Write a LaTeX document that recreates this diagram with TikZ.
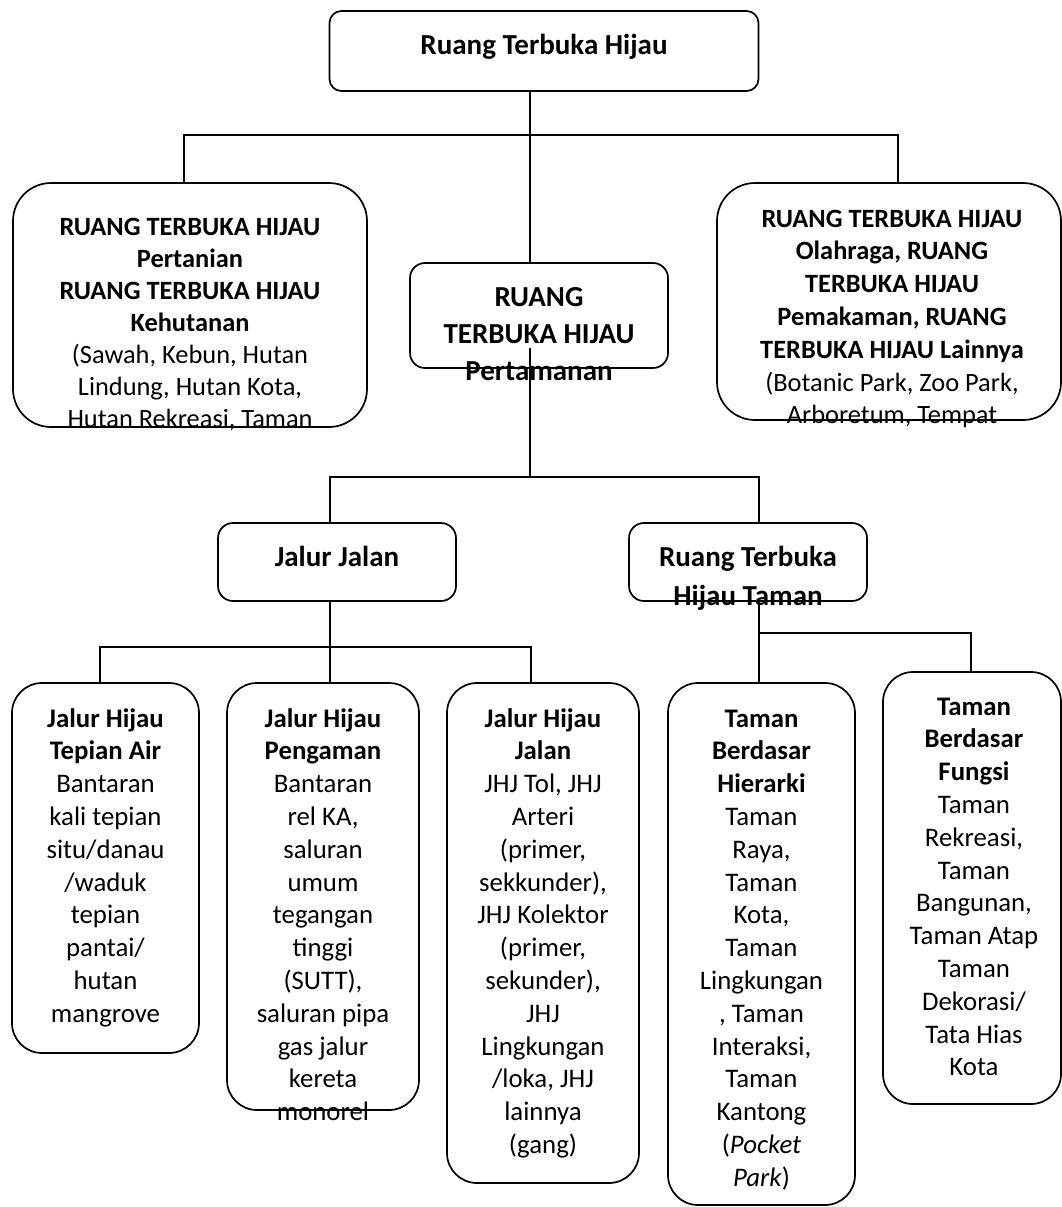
\documentclass[tikz,border=0pt]{standalone}
\usepackage{fontspec}
\setmainfont{Carlito}
\usepackage{tikz}
\usetikzlibrary{positioning,calc}

% one centred column, baseline on the first row
\newcommand{\rows}[1]{\begin{tabular}[t]{@{}c@{}}#1\end{tabular}}

\begin{document}
\begin{tikzpicture}[x=1pt, y=-1pt,
      frame/.style={draw, line width=1.7pt, inner sep=0pt},
      lbl/.style={inner sep=0pt, anchor=base, align=center},
      head/.style={font=\fontsize{29}{37}\selectfont},
      side/.style={font=\fontsize{26.4}{32.4}\selectfont},
      body/.style={font=\fontsize{26.8}{32.8}\selectfont},
      link/.style={line width=1.3pt}]
    \useasboundingbox (0,0) rectangle (1062,1207);

    % boxes
    \node[frame, rounded corners=12pt, minimum width=429pt, minimum height=80pt] (top) at (544,51) {};
    \node[frame, rounded corners=38pt, minimum width=354pt, minimum height=244pt] (lb) at (190,305) {};
    \node[frame, rounded corners=38pt, minimum width=344pt, minimum height=237pt] (rb) at (889,301.5) {};
    \node[frame, rounded corners=15pt, minimum width=258pt, minimum height=105pt] (mid) at (539,315.5) {};
    \node[frame, rounded corners=15pt, minimum width=238pt, minimum height=78pt] (jj) at (337,562) {};
    \node[frame, rounded corners=15pt, minimum width=238pt, minimum height=78pt] (tm) at (748,562) {};
    \node[frame, rounded corners=30pt, minimum width=187pt, minimum height=370pt] (b1) at (105.5,868) {};
    \node[frame, rounded corners=30pt, minimum width=192pt, minimum height=427pt] (b2) at (323,896.5) {};
    \node[frame, rounded corners=30pt, minimum width=192pt, minimum height=500pt] (b3) at (543,933) {};
    \node[frame, rounded corners=30pt, minimum width=187pt, minimum height=522pt] (b4) at (761.5,944) {};
    \node[frame, rounded corners=30pt, minimum width=178pt, minimum height=432pt] (b5) at (972,888) {};

    % texts
    \node[lbl, head] (toptext) at ([yshift=-44pt]top.north) {\rows{\textbf{Ruang Terbuka Hijau}}};
    \node[lbl, side, font=\fontsize{26.4}{32}\selectfont] (lbtext) at ([yshift=-53pt]lb.north)
      {\rows{\textbf{RUANG TERBUKA HIJAU}\\\textbf{Pertanian}\\\textbf{RUANG TERBUKA HIJAU}\\\textbf{Kehutanan}\\(Sawah, Kebun, Hutan\\Lindung, Hutan Kota,\\Hutan Rekreasi, Taman}};
    \node[lbl, side, font=\fontsize{26.4}{32.8}\selectfont] (rbtext) at ([xshift=3pt,yshift=-45pt]rb.north)
      {\rows{\textbf{RUANG TERBUKA HIJAU}\\\textbf{Olahraga, RUANG}\\\textbf{TERBUKA HIJAU}\\\textbf{Pemakaman, RUANG}\\\textbf{TERBUKA HIJAU Lainnya}\\(Botanic Park, Zoo Park,\\Arboretum, Tempat}};
    \node[lbl, head] (midtext) at ([yshift=-44pt]mid.north) {\rows{\textbf{RUANG}\\\textbf{TERBUKA HIJAU}\\\textbf{Pertamanan}}};
    \node[lbl, head] (jjtext) at ([yshift=-44pt]jj.north) {\rows{\textbf{Jalur Jalan}}};
    \node[lbl, font=\fontsize{29}{39}\selectfont] (tmtext) at ([yshift=-44pt]tm.north) {\rows{\textbf{Ruang Terbuka}\\\textbf{Hijau Taman}}};
    \node[lbl, body] (b1text) at ([yshift=-45pt]b1.north)
      {\rows{\textbf{Jalur Hijau}\\\textbf{Tepian Air}\\Bantaran\\kali tepian\\situ/danau\\/waduk\\tepian\\pantai/\\hutan\\mangrove}};
    \node[lbl, body] (b2text) at ([yshift=-45pt]b2.north)
      {\rows{\textbf{Jalur Hijau}\\\textbf{Pengaman}\\Bantaran\\rel KA,\\saluran\\umum\\tegangan\\tinggi\\(SUTT),\\saluran pipa\\gas jalur\\kereta\\monorel}};
    \node[lbl, body] (b3text) at ([yshift=-45pt]b3.north)
      {\rows{\textbf{Jalur Hijau}\\\textbf{Jalan}\\JHJ Tol, JHJ\\Arteri\\(primer,\\sekkunder),\\JHJ Kolektor\\(primer,\\sekunder),\\JHJ\\Lingkungan\\/loka, JHJ\\lainnya\\(gang)}};
    \node[lbl, body] (b4text) at ([yshift=-45pt]b4.north)
      {\rows{\textbf{Taman}\\\textbf{Berdasar}\\\textbf{Hierarki}\\Taman\\Raya,\\Taman\\Kota,\\Taman\\Lingkungan\\, Taman\\Interaksi,\\Taman\\Kantong\\(\textit{Pocket}\\\textit{Park})}};
    \node[lbl, body] (b5text) at ([xshift=2pt,yshift=-44pt]b5.north)
      {\rows{\textbf{Taman}\\\textbf{Berdasar}\\\textbf{Fungsi}\\Taman\\Rekreasi,\\Taman\\Bangunan,\\Taman Atap\\Taman\\Dekorasi/\\Tata Hias\\Kota}};

    % connectors
    \coordinate (bus1) at (530,135);
    \coordinate (stem) at ([xshift=-9pt,yshift=21pt]mid.south);
    \coordinate (bus2) at (530,477);
    \coordinate (bus3) at (330,647);
    \coordinate (bus4) at (759,633);
    \draw[link] ([xshift=-14pt]top.south) -- ([xshift=-9pt]mid.north);
    \draw[link] ([xshift=-6pt]lb.north) |- (bus1) -| ([xshift=9pt]rb.north);
    \draw[link] (stem) -- (bus2);
    \draw[link] ([xshift=-7pt]jj.north) |- (bus2) -| ([xshift=11pt]tm.north);
    \draw[link] ([xshift=-7pt]jj.south) -- (bus3);
    \draw[link] ([xshift=-5.5pt]b1.north) |- (bus3) -| ([xshift=-12pt]b3.north);
    \draw[link] (bus3) -- ([xshift=7pt]b2.north);
    \draw[link] ([xshift=11pt]tm.south) -- ([xshift=-2.5pt]b4.north);
    \draw[link] (bus4) -| ([xshift=-1pt]b5.north);
  \end{tikzpicture}
\end{document}
